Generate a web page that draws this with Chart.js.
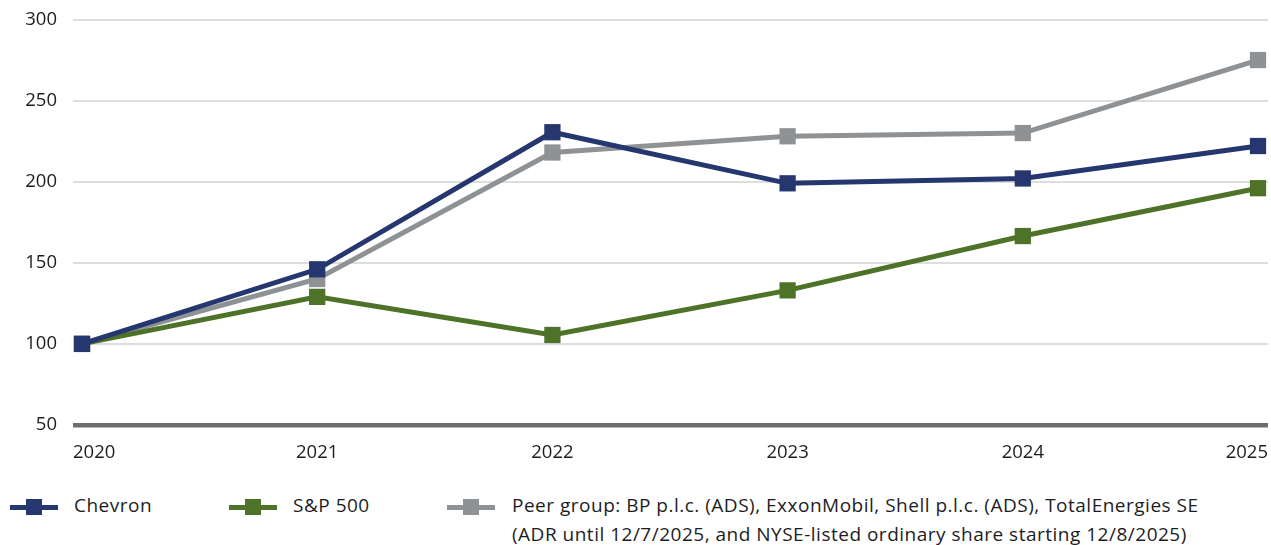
<!DOCTYPE html>
<html>
<head>
<meta charset="utf-8">
<script src="https://cdn.jsdelivr.net/npm/chart.js@4"></script>
<style>
  html, body { margin: 0; padding: 0; background: #ffffff; }
  #wrap { position: relative; width: 1271px; height: 545px; overflow: hidden; font-family: "Open Sans", sans-serif; color: #1d1d1f; }
  #chartBox { position: absolute; left: 0; top: 0; width: 1271px; height: 470px; }
  .lg-mark { position: absolute; width: 48px; height: 5px; }
  .lg-mark i { position: absolute; left: 16px; top: -5.5px; width: 16px; height: 16px; }
  .lg-text { position: absolute; font-size: 19px; letter-spacing: 0.5px; line-height: 29px; white-space: nowrap; }
</style>
</head>
<body>
<div id="wrap">
  <div id="chartBox"><canvas id="c" width="1271" height="470"></canvas></div>
  <div id="legend"></div>
</div>
<script>
// ---- data ----
const years = [2020, 2021, 2022, 2023, 2024, 2025];
const yearLabels = ['2020', '2021', '2022', '2023', '2024', '2025'];
const chevron = [100, 146, 230.5, 199, 202, 222];
const sp500 = [100, 129, 105.5, 133, 166.5, 196];
const peerGroup = [100, 140, 218, 228, 230, 275];
const seriesNames = ['Chevron', 'S&P 500', 'Peer group: BP p.l.c. (ADS), ExxonMobil, Shell p.l.c. (ADS), TotalEnergies SE\n(ADR until 12/7/2025, and NYSE-listed ordinary share starting 12/8/2025)'];
const yTicks = [50, 100, 150, 200, 250, 300];

const colors = ['#26366f', '#4e7228', '#8f9295'];

function pts(vals) { return years.map((y, i) => ({ x: y, y: vals[i] })); }

const xMin = 2020 - 9 / 235.2;
const xMax = 2025 + 10 / 235.2;

function ds(label, vals, color) {
  return {
    label: label,
    data: pts(vals),
    borderColor: color,
    backgroundColor: color,
    borderWidth: 5,
    tension: 0,
    pointStyle: 'rect',
    pointRadius: 11.5,
    pointHoverRadius: 11.5,
    pointBorderWidth: 0,
    pointBackgroundColor: color,
    clip: false
  };
}

const tickFont = { family: '"Open Sans", sans-serif', size: 18.5 };

new Chart(document.getElementById('c'), {
  type: 'line',
  data: {
    datasets: [
      ds(seriesNames[0], chevron, colors[0]),
      ds(seriesNames[1], sp500, colors[1]),
      ds(seriesNames[2], peerGroup, colors[2])
    ]
  },
  options: {
    responsive: false,
    animation: false,
    events: [],
    layout: { autoPadding: false, padding: { top: 19.5, right: 3, bottom: 0, left: 0 } },
    plugins: { legend: { display: false }, tooltip: { enabled: false } },
    scales: {
      x: {
        type: 'linear',
        min: xMin,
        max: xMax,
        afterBuildTicks: (s) => { s.ticks = [xMin, 2021, 2022, 2023, 2024, xMax].map(v => ({ value: v })); },
        afterFit: (s) => { s.height = 45; s.paddingLeft = 0; s.paddingRight = 0; },
        grid: { display: false, drawTicks: false },
        border: { display: false },
        ticks: {
          align: 'inner',
          padding: 17,
          color: '#1d1d1f',
          font: tickFont,
          callback: (v, i) => yearLabels[i]
        }
      },
      y: {
        min: 50,
        max: 300,
        afterBuildTicks: (s) => { s.ticks = yTicks.map(v => ({ value: v })); },
        afterFit: (s) => { s.width = 73; s.paddingTop = 0; s.paddingBottom = 0; },
        border: { display: false },
        grid: {
          drawTicks: false,
          color: (ctx) => ctx.tick && ctx.tick.value === 50 ? '#6d6e70' : '#dcdddd',
          lineWidth: (ctx) => ctx.tick && ctx.tick.value === 50 ? 4.5 : 2
        },
        ticks: {
          padding: 16,
          color: '#1d1d1f',
          font: tickFont
        }
      }
    }
  }
});

// ---- legend (HTML text) ----
const legendPos = [
  { mx: 10, tx: 74 },
  { mx: 229, tx: 293 },
  { mx: 447, tx: 512 }
];
const lg = document.getElementById('legend');
seriesNames.forEach((name, i) => {
  const m = document.createElement('div');
  m.className = 'lg-mark';
  m.style.left = legendPos[i].mx + 'px';
  m.style.top = '504.5px';
  m.style.background = colors[i];
  const sq = document.createElement('i');
  sq.style.background = colors[i];
  m.appendChild(sq);
  lg.appendChild(m);
  const t = document.createElement('div');
  t.className = 'lg-text';
  t.style.left = legendPos[i].tx + 'px';
  t.style.top = '491px';
  name.split('\n').forEach((line, k) => {
    if (k) t.appendChild(document.createElement('br'));
    t.appendChild(document.createTextNode(line));
  });
  lg.appendChild(t);
});
</script>
</body>
</html>
